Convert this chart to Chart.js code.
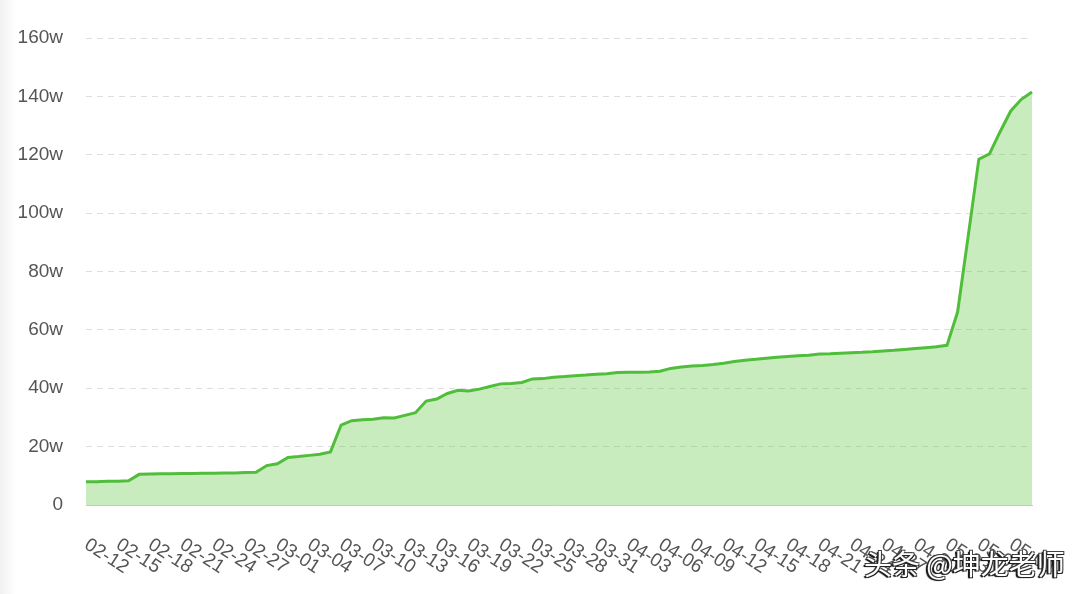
<!DOCTYPE html>
<html>
<head>
<meta charset="utf-8">
<script src="https://cdn.jsdelivr.net/npm/chart.js@4.4.1/dist/chart.umd.min.js"></script>
<style>
  html, body { margin: 0; padding: 0; background: #ffffff; }
  #wrap { position: relative; width: 1080px; height: 594px; overflow: hidden; background: #ffffff; }
  #edge { position: absolute; left: 0; top: 0; width: 16px; height: 594px;
          background: linear-gradient(to right, #f1f1f1, #ffffff); }
  #c { position: absolute; left: 0; top: 0; }
  #wm { position: absolute; left: 864px; top: 543px; font-family: "Noto Sans CJK SC", sans-serif;
        font-size: 28px; color: #ffffff; white-space: nowrap; letter-spacing: 0px;
        text-shadow: -1px 1px 0 #222, 1px -1px 0 #444, -1px -1px 0 #333, 1px 1px 0 #222, -2px 1px 1px #000; }
</style>
</head>
<body>
<div id="wrap">
  <div id="edge"></div>
  <canvas id="c" width="1080" height="594"></canvas>
  <div id="wm">头条 @坤龙老师</div>
</div>
<script>
// Dates (daily, 2020)
const categories = [
  '02-12','02-13','02-14','02-15','02-16','02-17','02-18','02-19','02-20','02-21',
  '02-22','02-23','02-24','02-25','02-26','02-27','02-28','02-29',
  '03-01','03-02','03-03','03-04','03-05','03-06','03-07','03-08','03-09','03-10',
  '03-11','03-12','03-13','03-14','03-15','03-16','03-17','03-18','03-19','03-20',
  '03-21','03-22','03-23','03-24','03-25','03-26','03-27','03-28','03-29','03-30','03-31',
  '04-01','04-02','04-03','04-04','04-05','04-06','04-07','04-08','04-09','04-10',
  '04-11','04-12','04-13','04-14','04-15','04-16','04-17','04-18','04-19','04-20',
  '04-21','04-22','04-23','04-24','04-25','04-26','04-27','04-28','04-29','04-30',
  '05-01','05-02','05-03','05-04','05-05','05-06','05-07','05-08','05-09','05-10','05-11'
];
// Cumulative values, in 万 (w)
const values = [
  8.0, 8.0, 8.1, 8.1, 8.3, 10.5, 10.6, 10.7, 10.7, 10.8,
  10.8, 10.9, 10.9, 11.0, 11.0, 11.1, 11.2, 13.5,
  14.1, 16.3, 16.6, 17.0, 17.4, 18.2, 27.4, 28.9, 29.2, 29.4,
  29.9, 29.8, 30.7, 31.6, 35.6, 36.3, 38.2, 39.3, 39.1, 39.7,
  40.6, 41.5, 41.6, 42.0, 43.2, 43.3, 43.8, 44.0, 44.3, 44.5, 44.8,
  45.0, 45.4, 45.5, 45.5, 45.6, 45.8, 46.8, 47.3, 47.6, 47.8,
  48.1, 48.6, 49.2, 49.6, 49.9, 50.3, 50.6, 50.9, 51.1, 51.3,
  51.7, 51.8, 52.0, 52.2, 52.3, 52.5, 52.8, 53.0, 53.3, 53.6,
  53.9, 54.2, 54.7, 66.1, 92.2, 118.5, 120.3, 127.9, 135.0, 139.0, 141.5
];
// X tick labels shown (every third day)
const xTickLabels = categories.filter((_, i) => i % 3 === 0);
// Y tick values and labels
const yTickValues = [0, 20, 40, 60, 80, 100, 120, 140, 160];
const yTickLabels = ['0', '20w', '40w', '60w', '80w', '100w', '120w', '140w', '160w'];

const rotatedXLabels = {
  id: 'rotatedXLabels',
  afterDraw(chart) {
    const xs = chart.scales.x;
    const ctx = chart.ctx;
    ctx.save();
    ctx.font = '19px "Liberation Sans", Arial, sans-serif';
    ctx.fillStyle = '#555555';
    ctx.textAlign = 'left';
    ctx.textBaseline = 'middle';
    categories.forEach((c, i) => {
      if (!xTickLabels.includes(c)) return;
      const x = xs.getPixelForValue(i);
      ctx.save();
      ctx.translate(x, 543);
      ctx.rotate(33 * Math.PI / 180);
      ctx.fillText(c, 0, 0);
      ctx.restore();
    });
    ctx.restore();
  }
};

new Chart(document.getElementById('c'), {
  type: 'line',
  data: {
    labels: categories,
    datasets: [{
      data: values,
      borderColor: '#50bd3b',
      backgroundColor: 'rgba(100,200,70,0.35)',
      borderWidth: 3,
      pointRadius: 0,
      tension: 0,
      fill: 'origin'
    }]
  },
  options: {
    responsive: false,
    animation: false,
    devicePixelRatio: 1,
    layout: { padding: { left: 0, right: 48, top: 38, bottom: 0 } },
    plugins: { legend: { display: false }, tooltip: { enabled: false } },
    scales: {
      x: {
        type: 'category',
        offset: false,
        grid: { display: false, drawTicks: false },
        border: { display: true, color: '#c8c8c8', width: 1 },
        ticks: { display: false },
        afterFit(scale) { scale.height = 89; }
      },
      y: {
        min: 0, max: 160,
        afterBuildTicks(scale) { scale.ticks = yTickValues.map(v => ({ value: v })); },
        grid: { color: '#dedede', lineWidth: 1, drawTicks: false },
        border: { display: false, dash: [6, 5] },
        ticks: {
          padding: 23,
          color: '#555555',
          font: { family: '"Liberation Sans", Arial, sans-serif', size: 19 },
          callback(v) { const k = yTickValues.indexOf(v); return k >= 0 ? yTickLabels[k] : ''; }
        },
        afterFit(scale) { scale.width = 86; }
      }
    }
  },
  plugins: [rotatedXLabels]
});
</script>
</body>
</html>
